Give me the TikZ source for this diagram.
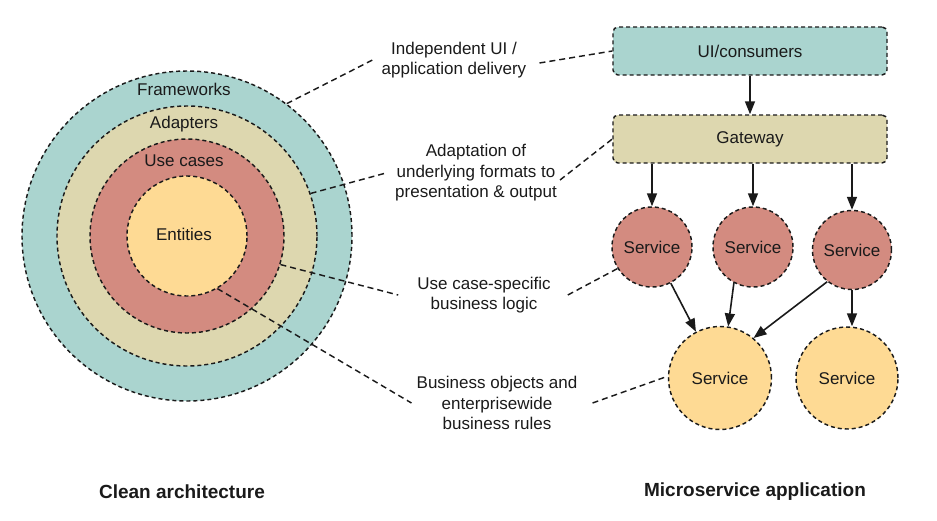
\documentclass[tikz,border=0pt]{standalone}
\usepackage{fontspec}
\setmainfont{Liberation Sans}
\usetikzlibrary{arrows.meta}
\definecolor{cteal}{HTML}{AAD4CF}
\definecolor{ckhaki}{HTML}{DDD7AF}
\definecolor{cred}{HTML}{D38B80}
\definecolor{cyell}{HTML}{FEDA94}
\definecolor{ink}{HTML}{1A1A1A}
\tikzset{
  border/.style={draw=ink, line width=1.45pt, dash pattern=on 4pt off 3pt},
  ring/.style={border, circle, inner sep=0pt},
  txt/.style={text=ink, font=\fontsize{17}{20.5}\selectfont},
  callout/.style={txt, align=center, inner sep=9pt},
  leader/.style={draw=ink, line width=1.45pt, dash pattern=on 6pt off 4pt},
  svc/.style={border, circle, inner sep=0pt, txt},
  box/.style={border, rounded corners=5pt, minimum width=274pt, minimum height=48pt, txt},
  arr/.style={draw=ink, line width=1.6pt, -{Triangle[length=13pt,width=10pt]}},
  title/.style={text=ink, font=\fontsize{19}{23}\selectfont\bfseries}
}
\begin{document}
\begin{tikzpicture}[x=1pt,y=-1pt]
\useasboundingbox (0,0) rectangle (937,520);
% clean architecture rings
\node[ring, fill=cteal, minimum size=330pt] (fw) at (187,236) {};
\node[ring, fill=ckhaki, minimum size=260pt] (ad) at (187,236) {};
\node[ring, fill=cred, minimum size=194pt] (uc) at (187,236) {};
\node[ring, fill=cyell, minimum size=120pt] (en) at (187,236) {};
\node[txt] (lfw) at (184,89) {Frameworks};
\node[txt] (lad) at (184,124) {Adapters};
\node[txt] (luc) at (184,161) {Use cases};
\node[txt] (len) at (184,234) {Entities};
% microservice side
\node[box, fill=cteal] (ui) at (750,51) {UI/consumers};
\node[box, fill=ckhaki] (gw) at (750,139) {Gateway};
\node[svc, fill=cred, minimum size=80pt] (s1) at (652,247) {Service};
\node[svc, fill=cred, minimum size=80pt] (s2) at (753,247) {Service};
\node[svc, fill=cred, minimum size=79pt] (s3) at (852,250) {Service};
\node[svc, fill=cyell, minimum size=103pt] (s4) at (720,378) {Service};
\node[svc, fill=cyell, minimum size=102pt] (s5) at (847,378) {Service};
\draw[arr] (ui) -- (gw);
\draw[arr] (gw.south -| s1.north) -- (s1.north);
\draw[arr] (gw.south -| s2.north) -- (s2.north);
\draw[arr] (gw.south -| s3.north) -- (s3.north);
\draw[arr] (s1) -- (s4);
\draw[arr] (s2.-118) -- (s4.81);
\draw[arr] (s3.-128) -- (s4.50);
\draw[arr] (s3.south) -- (s3.south |- s5.north);
% callouts
\node[callout] (t1) at (454,60) {Independent UI /\\application delivery};
\node[callout] (t2) at (476,173) {Adaptation of\\underlying formats to\\presentation \& output};
\node[callout] (t3) at (484,295) {Use case-specific\\business logic};
\node[callout] (t4) at (497,403) {Business objects and\\enterprisewide\\business rules};
\draw[leader] (fw.53.5) -- (t1.west);
\draw[leader] ([xshift=4pt,yshift=-3pt]t1.east) -- (ui.west);
\draw[leader] (ad.19) -- (t2.west);
\draw[leader] ([xshift=-6pt,yshift=-7pt]t2.east) -- (gw.west);
\draw[leader] (uc.-17) -- ([xshift=-10pt]t3.west);
\draw[leader] ([xshift=8pt]t3.east) -- (s1.212);
\draw[leader] (en.-60) -- ([xshift=4pt]t4.west);
\draw[leader] ([xshift=6pt]t4.east) -- (s4.178);
% titles
\node[title] (c1) at (182,492) {Clean architecture};
\node[title] (c2) at (755,492) {Microservice application};
\end{tikzpicture}
\end{document}
